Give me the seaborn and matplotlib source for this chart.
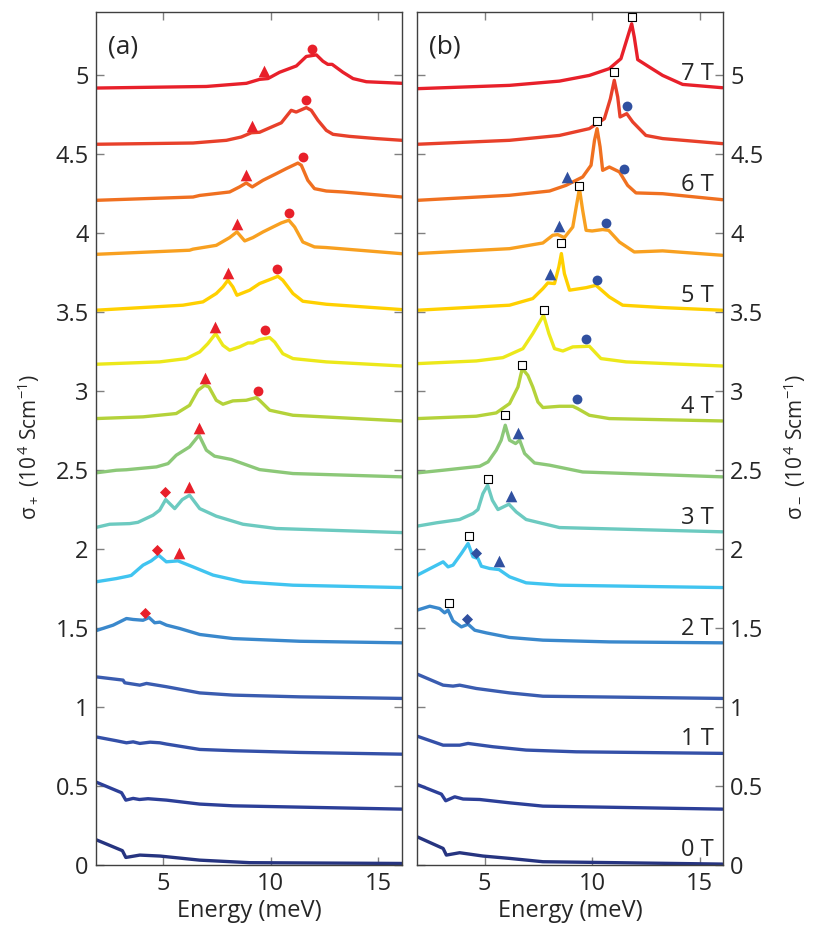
import numpy as np
import pandas as pd
import seaborn as sns
import matplotlib.pyplot as plt

# magnetic field of each trace (T) and its colour
fields = [0, 0.5, 1, 1.5, 2, 2.5, 3, 3.5, 4, 4.5, 5, 5.5, 6, 6.5, 7]
colors = ['#263480', '#2c3f98', '#3450a8', '#3a5cb0', '#3a88cc', '#40c4f0', '#6ccac0',
          '#8cc878', '#b4d23a', '#ece81a', '#ffd000', '#f8a020', '#f07020', '#e8402a', '#e8202a']
label_fields = [0, 1, 2, 3, 4, 5, 6, 7]
yticks = [0, 0.5, 1, 1.5, 2, 2.5, 3, 3.5, 4, 4.5, 5]

# panel (a): sigma+ traces as plotted (energy in meV, offset value)
a00 = ([1.86, 3.11, 3.27, 3.92, 4.85, 6.70, 9.02, 16.1],
       [0.162, 0.091, 0.048, 0.063, 0.057, 0.031, 0.015, 0.010])
a05 = ([1.86, 3.07, 3.27, 3.61, 3.90, 4.30, 5.16, 6.70, 8.25, 16.1],
       [0.527, 0.458, 0.411, 0.422, 0.415, 0.420, 0.411, 0.386, 0.375, 0.354])
a10 = ([1.86, 2.83, 3.30, 3.61, 3.92, 4.40, 4.85, 5.16, 6.70, 8.25, 11.34, 16.1],
       [0.812, 0.787, 0.774, 0.780, 0.770, 0.778, 0.774, 0.766, 0.732, 0.724, 0.713, 0.702])
a15 = ([1.86, 3.14, 3.22, 3.92, 4.23, 5.16, 6.70, 8.25, 11.34, 16.1],
       [1.192, 1.171, 1.154, 1.139, 1.150, 1.129, 1.090, 1.076, 1.065, 1.055])
a20 = ([1.86, 2.68, 3.30, 3.61, 4.07, 4.35, 4.61, 4.85, 5.16, 5.77, 6.70, 8.25, 11.34, 16.1],
       [1.483, 1.519, 1.561, 1.555, 1.550, 1.567, 1.534, 1.538, 1.519, 1.498, 1.460, 1.434, 1.417, 1.407])
a25 = ([1.86, 2.83, 3.37, 3.52, 4.07, 4.45, 4.79, 5.15, 5.69, 6.39, 7.32, 8.71, 11.03, 16.1],
       [1.793, 1.814, 1.829, 1.834, 1.899, 1.926, 1.962, 1.920, 1.926, 1.888, 1.836, 1.793, 1.772, 1.757])
a30 = ([1.86, 2.52, 3.45, 3.83, 4.53, 4.84, 5.12, 5.54, 5.89, 6.23, 6.70, 7.47, 8.71, 10.26, 16.1],
       [2.137, 2.158, 2.162, 2.170, 2.215, 2.247, 2.314, 2.257, 2.314, 2.342, 2.257, 2.209, 2.158, 2.131, 2.105])
a35 = ([1.86, 2.83, 3.29, 4.69, 5.23, 5.61, 6.23, 6.67, 7.01, 7.39, 8.17, 9.48, 11.03, 16.1],
       [2.483, 2.500, 2.503, 2.521, 2.542, 2.595, 2.648, 2.722, 2.627, 2.589, 2.568, 2.504, 2.479, 2.458])
a40 = ([1.86, 4.07, 5.61, 6.23, 6.62, 6.93, 7.13, 7.47, 7.78, 8.24, 8.86, 9.33, 9.48, 9.95, 11.03, 16.1],
       [2.827, 2.838, 2.859, 2.911, 3.006, 3.038, 3.027, 2.943, 2.918, 2.939, 2.943, 2.960, 2.943, 2.880, 2.848, 2.812])
a45 = ([1.86, 4.84, 6.08, 6.70, 7.08, 7.44, 7.78, 8.09, 8.55, 8.94, 9.17, 9.48, 9.95, 10.18, 10.56, 11.03, 12.58, 16.1],
       [3.171, 3.186, 3.207, 3.249, 3.302, 3.365, 3.291, 3.260, 3.281, 3.306, 3.306, 3.327, 3.340, 3.312, 3.238, 3.207, 3.186, 3.160])
a50 = ([1.86, 5.92, 6.85, 7.47, 7.78, 8.01, 8.24, 8.43, 9.02, 9.48, 9.95, 10.33, 10.56, 11.03, 11.49, 12.58, 16.1],
       [3.513, 3.545, 3.566, 3.619, 3.661, 3.703, 3.661, 3.608, 3.640, 3.682, 3.707, 3.728, 3.703, 3.619, 3.570, 3.551, 3.517])
a55 = ([1.86, 6.23, 6.39, 7.47, 8.09, 8.43, 8.79, 9.17, 9.64, 10.10, 10.49, 10.84, 11.11, 11.49, 12.03, 12.58, 16.1],
       [3.867, 3.893, 3.900, 3.924, 3.973, 4.009, 3.952, 3.973, 4.009, 4.040, 4.066, 4.083, 4.040, 3.945, 3.914, 3.910, 3.871])
a60 = ([1.86, 6.39, 6.70, 8.09, 8.55, 8.86, 9.14, 9.64, 10.26, 10.72, 11.26, 11.42, 11.72, 12.03, 12.58, 13.35, 16.1],
       [4.209, 4.230, 4.240, 4.262, 4.294, 4.319, 4.294, 4.336, 4.378, 4.410, 4.445, 4.431, 4.336, 4.283, 4.268, 4.262, 4.230])
a65 = ([1.86, 6.39, 7.94, 8.63, 9.10, 9.48, 10.10, 10.49, 10.95, 11.18, 11.65, 11.88, 12.19, 12.58, 12.89, 13.66, 14.90, 16.1],
       [4.564, 4.572, 4.589, 4.610, 4.637, 4.640, 4.677, 4.700, 4.779, 4.768, 4.796, 4.779, 4.716, 4.652, 4.627, 4.614, 4.600, 4.589])
a70 = ([1.86, 7.01, 8.87, 9.48, 9.87, 10.41, 11.19, 11.65, 12.12, 12.42, 12.65, 12.85, 13.35, 13.82, 14.44, 16.1],
       [4.920, 4.930, 4.950, 4.975, 4.980, 5.020, 5.060, 5.120, 5.130, 5.090, 5.070, 5.070, 5.020, 4.980, 4.960, 4.950])

# panel (b): sigma- traces as plotted
b00 = ([1.86, 3.07, 3.22, 3.84, 4.92, 6.16, 7.71, 16.06],
       [0.179, 0.105, 0.063, 0.078, 0.057, 0.042, 0.021, 0.006])
b05 = ([1.86, 2.99, 3.19, 3.61, 4.00, 4.77, 6.16, 7.71, 16.06],
       [0.510, 0.449, 0.407, 0.432, 0.418, 0.415, 0.394, 0.373, 0.354])
b10 = ([1.86, 3.07, 3.84, 4.23, 5.39, 6.93, 9.26, 16.06],
       [0.816, 0.759, 0.759, 0.770, 0.749, 0.728, 0.717, 0.707])
b15 = ([1.86, 3.07, 3.53, 3.84, 4.61, 6.16, 7.71, 16.06],
       [1.209, 1.139, 1.133, 1.139, 1.118, 1.090, 1.069, 1.055])
b20 = ([1.86, 2.45, 2.91, 3.14, 3.30, 3.53, 3.92, 4.23, 4.54, 5.08, 6.16, 7.71, 10.80, 16.06],
       [1.614, 1.639, 1.624, 1.597, 1.614, 1.546, 1.508, 1.525, 1.487, 1.470, 1.441, 1.424, 1.413, 1.407])
b25 = ([1.86, 3.07, 3.30, 3.53, 3.92, 4.23, 4.46, 4.69, 4.85, 5.23, 5.67, 6.16, 6.93, 8.48, 16.06],
       [1.835, 1.920, 1.888, 1.899, 1.973, 2.036, 1.952, 1.941, 1.892, 1.878, 1.871, 1.825, 1.787, 1.772, 1.757])
b30 = ([1.86, 2.76, 3.84, 4.46, 4.69, 4.92, 5.14, 5.36, 5.62, 6.13, 6.47, 6.93, 8.48, 16.06],
       [2.146, 2.167, 2.188, 2.226, 2.251, 2.352, 2.405, 2.310, 2.251, 2.285, 2.236, 2.188, 2.137, 2.110])
b35 = ([1.86, 3.07, 4.77, 5.16, 5.54, 5.77, 5.96, 6.16, 6.44, 6.63, 6.86, 7.32, 8.02, 9.56, 16.06],
       [2.483, 2.500, 2.525, 2.553, 2.627, 2.690, 2.785, 2.690, 2.669, 2.690, 2.606, 2.546, 2.532, 2.489, 2.458])
b40 = ([1.86, 4.61, 5.54, 6.16, 6.55, 6.75, 7.01, 7.24, 7.48, 7.71, 8.48, 9.10, 9.33, 9.87, 10.80, 16.06],
       [2.827, 2.842, 2.863, 2.922, 3.027, 3.143, 3.101, 3.027, 2.932, 2.897, 2.905, 2.905, 2.890, 2.848, 2.827, 2.812])
b45 = ([1.86, 4.61, 5.85, 6.78, 7.24, 7.74, 7.99, 8.25, 8.64, 9.10, 9.87, 10.41, 11.58, 16.06],
       [3.175, 3.192, 3.213, 3.270, 3.365, 3.481, 3.365, 3.270, 3.255, 3.281, 3.285, 3.207, 3.186, 3.160])
b50 = ([1.86, 6.16, 7.24, 7.71, 7.94, 8.25, 8.45, 8.57, 8.71, 8.95, 9.72, 10.18, 10.80, 11.42, 13.28, 16.06],
       [3.513, 3.545, 3.587, 3.650, 3.686, 3.682, 3.787, 3.872, 3.745, 3.640, 3.656, 3.671, 3.597, 3.545, 3.530, 3.513])
b55 = ([1.86, 6.16, 7.71, 8.17, 8.40, 8.71, 9.10, 9.26, 9.41, 9.56, 9.72, 10.00, 10.49, 10.77, 11.27, 11.96, 13.28, 16.06],
       [3.872, 3.903, 3.939, 3.988, 3.992, 3.973, 4.040, 4.167, 4.283, 4.146, 4.019, 4.015, 4.024, 4.019, 3.945, 3.882, 3.889, 3.861])
b60 = ([1.86, 6.16, 8.02, 8.79, 9.56, 9.95, 10.11, 10.23, 10.37, 10.49, 10.80, 11.27, 11.65, 12.04, 13.28, 16.06],
       [4.209, 4.241, 4.268, 4.304, 4.357, 4.431, 4.589, 4.663, 4.547, 4.399, 4.420, 4.389, 4.304, 4.256, 4.251, 4.213])
b65 = ([1.86, 6.16, 8.48, 9.87, 10.57, 10.85, 11.03, 11.19, 11.30, 11.61, 11.89, 12.50, 13.28, 16.06],
       [4.564, 4.589, 4.620, 4.663, 4.726, 4.853, 4.969, 4.863, 4.737, 4.758, 4.705, 4.620, 4.600, 4.568])
b70 = ([1.86, 6.16, 8.48, 9.87, 10.80, 11.34, 11.65, 11.84, 11.96, 12.12, 12.66, 13.28, 14.21, 16.06],
       [4.916, 4.937, 4.964, 5.000, 5.043, 5.106, 5.243, 5.327, 5.243, 5.100, 5.053, 5.000, 4.943, 4.922])

# feature markers (energy, plotted value)
a_tri = ([9.68, 9.14, 8.86, 8.45, 8.01, 7.42, 6.96, 6.65, 6.20, 5.72],
         [5.03, 4.68, 4.367, 4.057, 3.749, 3.407, 3.087, 2.77, 2.395, 1.979])
a_circ = ([11.91, 11.62, 11.49, 10.84, 10.30, 9.74, 9.40],
          [5.17, 4.842, 4.483, 4.131, 3.777, 3.386, 3.002])
a_dia = ([5.10, 4.73, 4.15], [2.361, 1.998, 1.599])
b_sq = ([11.84, 11.02, 10.23, 9.41, 8.57, 7.77, 6.75, 5.96, 5.16, 4.26, 3.33],
        [5.37, 5.02, 4.711, 4.30, 3.939, 3.513, 3.165, 2.852, 2.447, 2.082, 1.66])
b_tri = ([8.82, 8.45, 8.02, 6.55, 6.21, 5.67], [4.357, 4.047, 3.741, 2.738, 2.335, 1.926])
b_circ = ([11.62, 11.47, 10.65, 10.23, 9.72, 9.30], [4.804, 4.41, 4.068, 3.707, 3.333, 2.949])
b_dia = ([4.61, 4.20], [1.977, 1.561])

curves_a = [a00, a05, a10, a15, a20, a25, a30, a35, a40, a45, a50, a55, a60, a65, a70]
curves_b = [b00, b05, b10, b15, b20, b25, b30, b35, b40, b45, b50, b55, b60, b65, b70]


def to_frame(curves):
    rows = []
    for f, (e, s) in zip(fields, curves):
        for x, y in zip(e, s):
            rows.append((f, x, y))
    return pd.DataFrame(rows, columns=['field', 'energy', 'sigma'])


df_a = to_frame(curves_a)
df_b = to_frame(curves_b)
palette = dict(zip(fields, colors))

sns.set_style('ticks')
plt.rcParams['font.family'] = ['Open Sans', 'DejaVu Sans']
plt.rcParams['mathtext.default'] = 'regular'

fig = plt.figure(figsize=(8.22, 9.42), dpi=100)
ax1 = fig.add_axes([0.1164, 0.0817, 0.3728, 0.9053])
ax2 = fig.add_axes([0.5077, 0.0817, 0.3722, 0.9053])

for ax, df in ((ax1, df_a), (ax2, df_b)):
    sns.lineplot(data=df, x='energy', y='sigma', hue='field', palette=palette,
                 sort=False, estimator=None, legend=False, lw=2.4, ax=ax)
    ax.set_xlim(1.87, 16.1)
    ax.set_ylim(0, 5.4)
    ax.set_xticks([5, 10, 15])
    ax.set_yticks(yticks, labels=[f'{t:g}' for t in yticks])
    ax.tick_params(direction='in', length=6, width=1, color='#808080',
                   top=True, right=True, labelsize=17, pad=5)
    for sp in ax.spines.values():
        sp.set_color('#404040')
        sp.set_linewidth(1)
    ax.set_xlabel('Energy (meV)', fontsize=17, labelpad=2)

red = '#e8202a'
blue = '#3050a0'
sns.scatterplot(x=a_tri[0], y=a_tri[1], marker='^', s=70, color=red, lw=0, ax=ax1, zorder=5)
sns.scatterplot(x=a_circ[0], y=a_circ[1], marker='o', s=50, color=red, lw=0, ax=ax1, zorder=5)
sns.scatterplot(x=a_dia[0], y=a_dia[1], marker='D', s=32, color=red, lw=0, ax=ax1, zorder=5)
sns.scatterplot(x=b_sq[0], y=b_sq[1], marker='s', s=30, facecolor='white', edgecolor='black',
                lw=0.8, ax=ax2, zorder=6)
sns.scatterplot(x=b_tri[0], y=b_tri[1], marker='^', s=70, color=blue, lw=0, ax=ax2, zorder=5)
sns.scatterplot(x=b_circ[0], y=b_circ[1], marker='o', s=50, color=blue, lw=0, ax=ax2, zorder=5)
sns.scatterplot(x=b_dia[0], y=b_dia[1], marker='D', s=32, color=blue, lw=0, ax=ax2, zorder=5)

ax1.set_ylabel('σ$_+$ (10$^{\\,4}$ Scm$^{-1}$)', fontsize=15, va='center', ha='center')
ax1.yaxis.set_label_coords(-0.22, 0.49)
ax2.tick_params(labelleft=False, labelright=True)
ax2.yaxis.set_label_position('right')
ax2.set_ylabel('σ$_-$ (10$^{\\,4}$ Scm$^{-1}$)', fontsize=15, va='center', ha='center',
               rotation=90)
ax2.yaxis.set_label_coords(1.232, 0.49)

# field labels sit just above the right end of each integer-field trace
for f in label_fields:
    e, s = curves_b[fields.index(f)]
    ax2.text(15.65, s[-1] + 0.09, f'{f} T', fontsize=17, ha='right', va='center')

ax1.text(0.089, 0.959, '(a)', transform=ax1.transAxes, fontsize=19, ha='center', va='center')
ax2.text(0.089, 0.959, '(b)', transform=ax2.transAxes, fontsize=19, ha='center', va='center')

fig.savefig('out.png', dpi=100)
